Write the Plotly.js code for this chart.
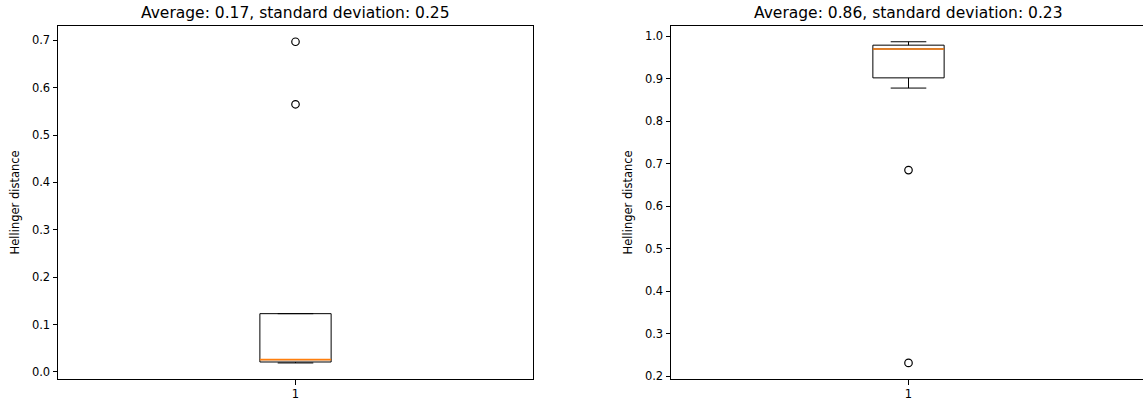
<!DOCTYPE html>
<html>
<head>
<meta charset="utf-8">
<script src="https://cdn.plot.ly/plotly-3.0.1.min.js"></script>
<style>
html,body{margin:0;padding:0;overflow:hidden;background:#fff;}
#chart{width:1143px;height:405px;}
</style>
</head>
<body>
<div id="chart"></div>
<script>
// ---- data ----
const titles = ["Average: 0.17, standard deviation: 0.25", "Average: 0.86, standard deviation: 0.23"];
const yLabel = "Hellinger distance";
const positions = [1];
const tickLabels = ["1"];

// left panel box statistics
const leftLowerFence = [0.019];
const leftQ1 = [0.021];
const leftMedian = [0.026];
const leftQ3 = [0.123];
const leftUpperFence = [0.123];
const leftOutliers = [0.565, 0.697];

// right panel box statistics
const rightLowerFence = [0.878];
const rightQ1 = [0.902];
const rightMedian = [0.970];
const rightQ3 = [0.979];
const rightUpperFence = [0.987];
const rightOutliers = [0.685, 0.231];

// ---- styling ----
const FONT = "DejaVu Sans, sans-serif";
const BOXW = 0.15;
const W = 1147, H = 405;

function dataRange(vals) {
  const mn = Math.min(...vals), mx = Math.max(...vals);
  const pad = (mx - mn) * 0.05;
  return [mn - pad, mx + pad];
}

function panel(xa, ya, lf, q1, med, q3, uf, outl) {
  const traces = [];
  traces.push({
    type: 'box', x: positions, q1: q1, median: med, q3: q3,
    lowerfence: lf, upperfence: uf, width: BOXW, whiskerwidth: 0.5,
    line: {color: '#000', width: 1}, fillcolor: 'rgba(255,255,255,0)',
    boxpoints: false, xaxis: xa, yaxis: ya, showlegend: false, hoverinfo: 'skip'
  });
  traces.push({
    type: 'scatter', mode: 'lines',
    x: positions.flatMap(p => [p - BOXW / 2, p + BOXW / 2]),
    y: med.flatMap(m => [m, m]),
    line: {color: '#ff7f0e', width: 1.6},
    xaxis: xa, yaxis: ya, showlegend: false, hoverinfo: 'skip'
  });
  traces.push({
    type: 'scatter', mode: 'markers',
    x: outl.map(() => positions[0]), y: outl,
    marker: {symbol: 'circle-open', size: 7.5, color: '#000', line: {width: 1.2, color: '#000'}},
    xaxis: xa, yaxis: ya, showlegend: false, hoverinfo: 'skip'
  });
  return traces;
}

const data = [
  ...panel('x', 'y', leftLowerFence, leftQ1, leftMedian, leftQ3, leftUpperFence, leftOutliers),
  ...panel('x2', 'y2', rightLowerFence, rightQ1, rightMedian, rightQ3, rightUpperFence, rightOutliers)
];

const leftRange = dataRange([...leftLowerFence, ...leftUpperFence, ...leftOutliers, ...leftQ1, ...leftQ3]);
const rightRange = dataRange([...rightLowerFence, ...rightUpperFence, ...rightOutliers, ...rightQ1, ...rightQ3]);

const yDom = [1 - 379 / H, 1 - 25.7 / H];
const xDom1 = [58 / W, 533 / W];
const xDom2 = [671 / W, 1146 / W];

function xaxis(dom, anchor) {
  return {
    domain: dom, anchor: anchor, range: [0.5, 1.5], tickvals: positions, ticktext: tickLabels,
    showline: true, mirror: true, linecolor: '#000', linewidth: 1,
    ticks: 'outside', ticklen: 4.5, tickwidth: 1, tickcolor: '#000',
    showgrid: false, zeroline: false, fixedrange: true,
    tickfont: {family: FONT, size: 11.5, color: '#000'}
  };
}
function yaxis(range, anchor, dtick) {
  return {
    domain: yDom, anchor: anchor, range: range, dtick: dtick, tickformat: '.1f',
    showline: true, mirror: true, linecolor: '#000', linewidth: 1,
    ticks: 'outside', ticklen: 4.5, tickwidth: 1, tickcolor: '#000',
    showgrid: false, zeroline: false, fixedrange: true,
    tickfont: {family: FONT, size: 11.5, color: '#000'},
    title: {text: yLabel, font: {family: FONT, size: 11.5, color: '#000'}, standoff: 9}
  };
}

const layout = {
  width: W, height: H,
  margin: {l: 0, r: 0, t: 0, b: 0},
  paper_bgcolor: '#fff', plot_bgcolor: '#fff',
  showlegend: false,
  xaxis: xaxis(xDom1, 'y'),
  yaxis: yaxis(leftRange, 'x', 0.1),
  xaxis2: xaxis(xDom2, 'y2'),
  yaxis2: yaxis(rightRange, 'x2', 0.1),
  annotations: [
    {text: titles[0], xref: 'x domain', yref: 'y domain', x: 0.5, y: 1, xanchor: 'center', yanchor: 'bottom',
     yshift: 2, showarrow: false, font: {family: FONT, size: 15.5, color: '#000'}},
    {text: titles[1], xref: 'x2 domain', yref: 'y2 domain', x: 0.5, y: 1, xanchor: 'center', yanchor: 'bottom',
     yshift: 2, showarrow: false, font: {family: FONT, size: 15.5, color: '#000'}}
  ]
};

Plotly.newPlot('chart', data, layout, {staticPlot: true, displayModeBar: false});
</script>
</body>
</html>
